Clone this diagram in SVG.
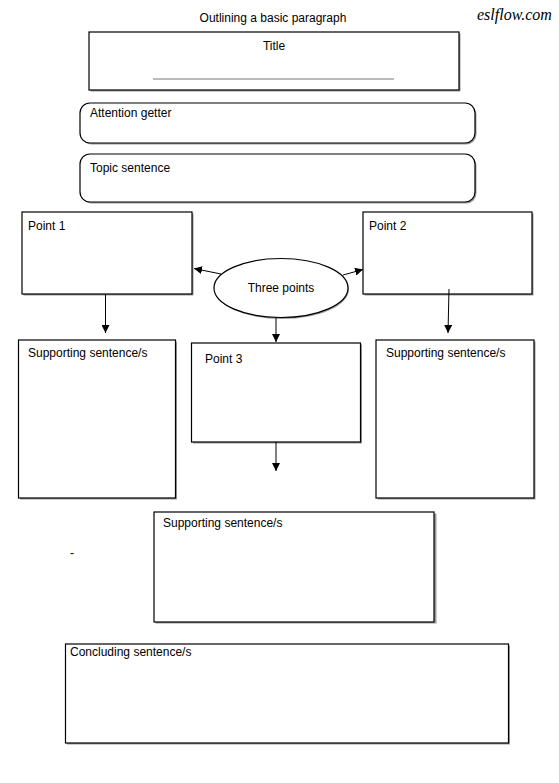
<svg xmlns="http://www.w3.org/2000/svg" width="559" height="783" viewBox="0 0 559 783">
<defs>
<marker id="arr" viewBox="0 0 10 10" refX="10" refY="5" markerWidth="8" markerHeight="8" markerUnits="userSpaceOnUse" orient="auto">
<path d="M0,0 L10,5 L0,10 Z" fill="#000"/>
</marker>
</defs>
<style>
.box{fill:#fff;stroke:#000;stroke-width:1.2}
.sh{fill:#9a9a9a}
.t{font-family:"Liberation Sans",Arial,sans-serif;font-size:12px;fill:#000}
.c{stroke:#000;stroke-width:1;fill:none}
</style>
<rect width="559" height="783" fill="#fff"/>
<text class="t" x="273" y="22" text-anchor="middle">Outlining a basic paragraph</text>
<text x="477" y="20" font-family="Liberation Serif,serif" font-style="italic" font-size="16">eslflow.com</text>

<g id="title">
<rect class="sh" x="90.5" y="33.5" width="370" height="58"/>
<rect class="box" x="89" y="32" width="370" height="58"/>
<text class="t" x="274" y="50" text-anchor="middle">Title</text>
<line x1="153" y1="79" x2="394" y2="79" stroke="#555" stroke-width="0.8"/>
</g>
<g id="attention">
<rect class="sh" x="81.5" y="104.5" width="395" height="40" rx="10"/>
<rect class="box" x="80" y="103" width="395" height="40" rx="10"/>
<text class="t" x="90" y="117">Attention getter</text>
</g>
<g id="topic">
<rect class="sh" x="81.5" y="155.5" width="395" height="48" rx="10"/>
<rect class="box" x="80" y="154" width="395" height="48" rx="10"/>
<text class="t" x="90" y="172">Topic sentence</text>
</g>
<g id="point1">
<rect class="sh" x="23.5" y="213.5" width="170" height="82"/>
<rect class="box" x="22" y="212" width="170" height="82"/>
<text class="t" x="28" y="230">Point 1</text>
</g>
<g id="point2">
<rect class="sh" x="364.5" y="213.5" width="169" height="82"/>
<rect class="box" x="363" y="212" width="169" height="82"/>
<text class="t" x="369" y="230">Point 2</text>
</g>
<g id="three">
<ellipse class="sh" cx="282" cy="289.5" rx="67" ry="29.5"/>
<ellipse class="box" cx="281" cy="288" rx="67" ry="29.5"/>
<text class="t" x="281" y="292" text-anchor="middle">Three points</text>
</g>
<g id="support1">
<rect class="sh" x="20" y="341.5" width="157" height="158"/>
<rect class="box" x="18.5" y="340" width="157" height="158"/>
<text class="t" x="28" y="357">Supporting sentence/s</text>
</g>
<g id="point3">
<rect class="sh" x="193" y="344.5" width="169" height="99"/>
<rect class="box" x="191.5" y="343" width="169" height="99"/>
<text class="t" x="205" y="363">Point 3</text>
</g>
<g id="support2">
<rect class="sh" x="377.5" y="341.5" width="158" height="158"/>
<rect class="box" x="376" y="340" width="158" height="158"/>
<text class="t" x="386" y="357">Supporting sentence/s</text>
</g>
<g id="support3">
<rect class="sh" x="155.5" y="513.5" width="281" height="110"/>
<rect class="box" x="154" y="512" width="280" height="110"/>
<text class="t" x="163" y="527">Supporting sentence/s</text>
</g>
<text class="t" x="70" y="557">-</text>
<g id="concluding">
<rect class="sh" x="67" y="645.5" width="443" height="99"/>
<rect class="box" x="65.5" y="644" width="443" height="99"/>
<text class="t" x="70" y="656">Concluding sentence/s</text>
</g>

<g id="connectors">
<line class="c" x1="221" y1="274" x2="194" y2="268.5" marker-end="url(#arr)"/>
<line class="c" x1="343" y1="275" x2="363" y2="269.5" marker-end="url(#arr)"/>
<line class="c" x1="105.5" y1="294" x2="105.5" y2="333" marker-end="url(#arr)"/>
<line class="c" x1="449" y1="289" x2="448" y2="333" marker-end="url(#arr)"/>
<line class="c" x1="276" y1="318" x2="276" y2="342" marker-end="url(#arr)"/>
<line class="c" x1="276" y1="442" x2="276" y2="471" marker-end="url(#arr)"/>
</g>
</svg>
